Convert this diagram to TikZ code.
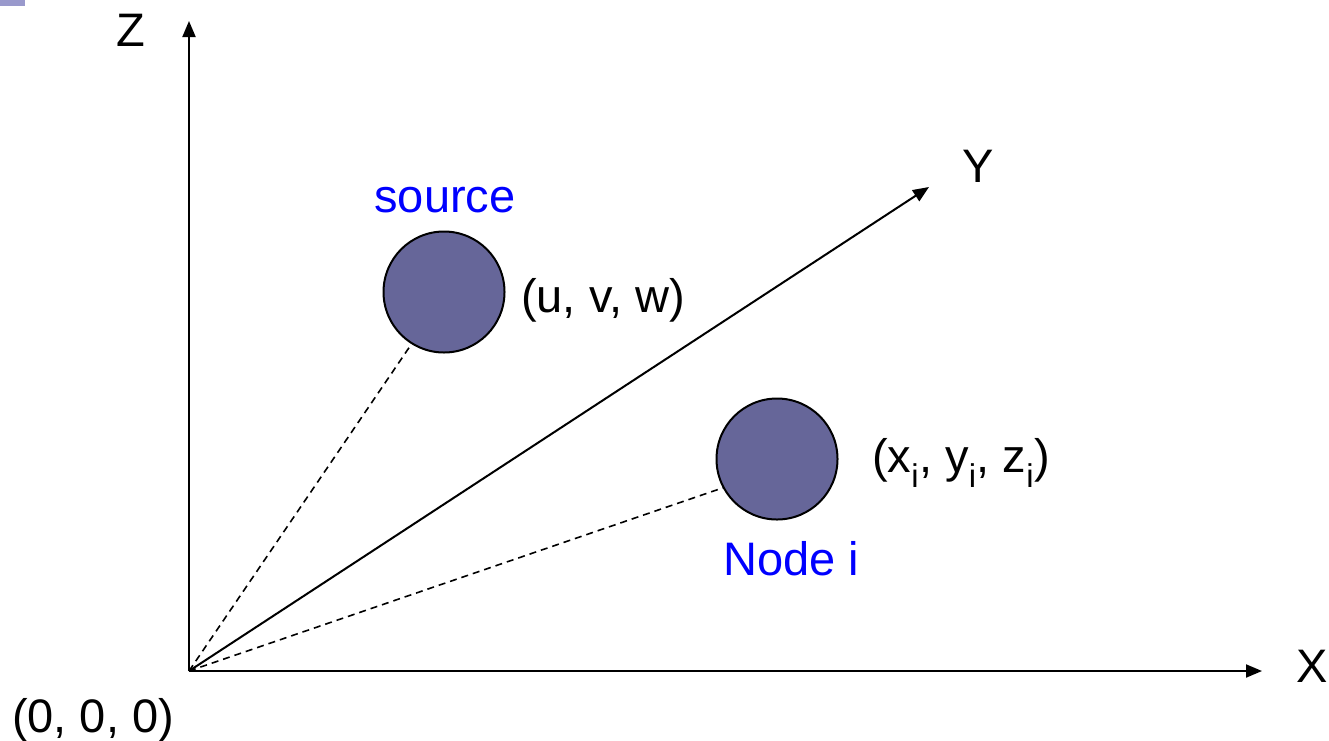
\documentclass[tikz,border=0pt]{standalone}
\usepackage{fontspec}
\setmainfont{Liberation Sans}
\usepackage{xcolor}
\usetikzlibrary{arrows.meta}

\definecolor{bola}{RGB}{102,102,153}
\definecolor{marca}{RGB}{153,153,204}

\begin{document}
\begin{tikzpicture}[
  x=1pt, y=-1pt,
  texto/.style={font=\fontsize{47}{56}\selectfont, inner sep=0pt, anchor=base},
  etiqueta/.style={texto, text=blue},
  esfera/.style={circle, draw, line width=2pt, fill=bola, minimum size=121pt,
                 inner sep=0pt},
  eje/.style={-{Triangle[length=16pt, width=13pt]}, line width=2pt},
  rayo/.style={line width=1.6pt, dash pattern=on 7pt off 5pt}
]
\useasboundingbox (0,0) rectangle (1329,740);
\fill[marca] (0,0) rectangle (25,6);

\coordinate (origen) at (189,671);
\coordinate (finz) at (189,21);
\coordinate (finx) at (1262,671);
\coordinate (finy) at (929,187);

\node[esfera] (fuente) at (444,292) {};
\node[esfera] (nodoi) at (777,459) {};

\draw[eje] (origen) -- (finz);
\draw[eje] (origen) -- (finx);
\draw[eje] (origen) -- (finy);

\draw[rayo] (origen) -- (fuente.238);
\draw[rayo] (origen) -- (nodoi.208);

\node[texto] (z) at (131,46) {Z};
\node[texto] (xlab) at (1312,682) {X};
\node[texto] (ylab) at (978,182) {Y};
\node[texto] (cero) at (93,732) {(0, 0, 0)};
\node[etiqueta] (nomfuente) at (445,212) {source};
\node[texto] (uvw) at (603,312) {(u, v, w)};
\node[texto] (xyz) at (961,472) {(x\textsubscript{i}, y\textsubscript{i}, z\textsubscript{i})};
\node[etiqueta] (nomnodo) at (791,575) {Node i};
\end{tikzpicture}
\end{document}
